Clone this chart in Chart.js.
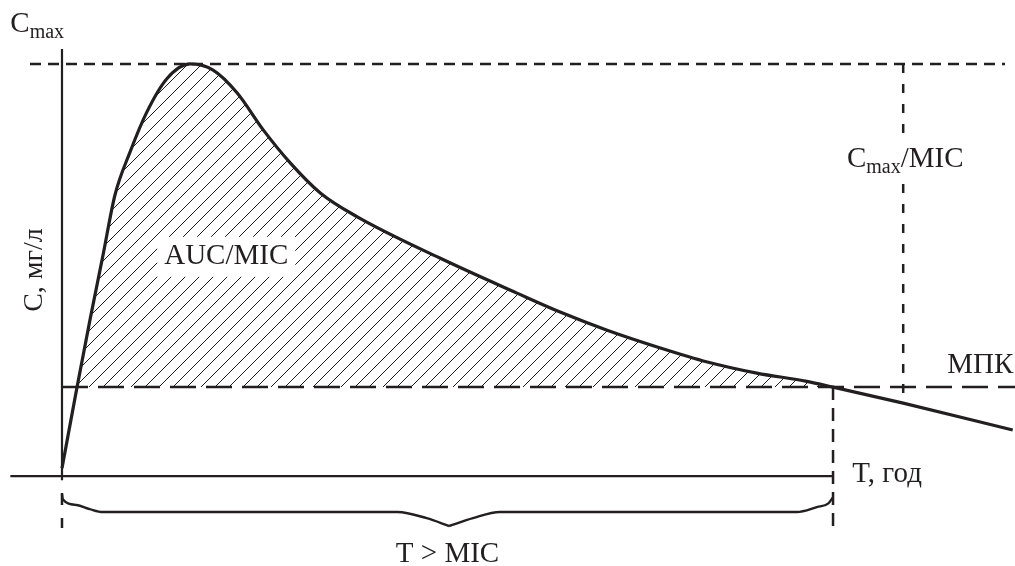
<!DOCTYPE html>
<html>
<head>
<meta charset="utf-8">
<script src="https://cdn.jsdelivr.net/npm/chart.js@4.4.1/dist/chart.umd.min.js"></script>
<style>
    html, body { margin: 0; padding: 0; background: #fff; }
    #wrap { width: 1015px; height: 566px; position: relative; }
</style>
</head>
<body>
<div id="wrap"><canvas id="pkChart"></canvas></div>
<script>
// кривая концентрации: время (T) и концентрация (C)
const curveT = [0, 0.195, 0.363, 0.532, 0.687, 0.882, 1.10, 1.36, 1.66, 1.96, 2.27, 2.61, 2.96, 3.35, 3.83, 4.90, 5.90, 6.46, 7.07, 7.76, 8.37, 9.01, 9.66, 10.0, 10.91, 12.33];
const curveC = [0.19, 2.16, 3.79, 5.36, 6.82, 7.86, 8.83, 9.64, 10.0, 9.85, 9.30, 8.40, 7.60, 6.87, 6.29, 5.29, 4.44, 3.98, 3.54, 3.11, 2.77, 2.50, 2.30, 2.16, 1.77, 1.12];

// уровни
const C_MAX = 10;
const MIC = 2.16;
const T_PEAK_MARK = 10.91;   // вертикаль Cmax/MIC
const T_MIC_END = 10;        // конец T > MIC

// фигурная скобка T > MIC (левая и правая половины)
const braceLeftT = [0, 0.01, 0.19, 0.36, 0.53, 4.35, 4.73, 5.02];
const braceLeftC = [-0.44, -0.56, -0.70, -0.80, -0.87, -0.87, -1.02, -1.21];
const braceRightT = [5.02, 5.33, 5.68, 9.53, 9.79, 9.94, 10.0];
const braceRightC = [-1.21, -1.02, -0.87, -0.87, -0.75, -0.66, -0.51];

// подписи
const labels = [
    { text: 'AUC/MIC', t: 2.13, c: 5.32, align: 'center', box: true },
    { text: 'МПК', t: 11.48, c: 2.5, align: 'left' },
    { text: 'T, год', t: 10.25, c: -0.15, align: 'left' },
    { text: 'T > MIC', t: 5.0, c: -2.09, align: 'center' }
];

(() => {
    const INK = '#231f20';
    const SERIF = '"Liberation Serif", "DejaVu Serif", serif';

    const zip = (ts, cs) => ts.map((t, i) => ({ x: t, y: cs[i] }));

    // штриховка
    function makeHatch() {
        const s = 14;
        const c = document.createElement('canvas');
        c.width = s; c.height = s;
        const g = c.getContext('2d');
        g.strokeStyle = INK;
        g.lineWidth = 1;
        g.beginPath();
        g.moveTo(-2, s + 2); g.lineTo(s + 2, -2);
        g.moveTo(-2, 2); g.lineTo(2, -2);
        g.moveTo(s - 2, s + 2); g.lineTo(s + 2, s - 2);
        g.stroke();
        return g.createPattern(c, 'repeat');
    }

    function seg(points, dash, width) {
        return {
            data: points,
            borderColor: INK,
            borderWidth: width || 2.4,
            borderDash: dash || [],
            pointRadius: 0,
            tension: 0,
            fill: false
        };
    }

    const datasets = [
        {
            data: zip(curveT, curveC),
            borderColor: INK,
            borderWidth: 3.2,
            pointRadius: 0,
            cubicInterpolationMode: 'monotone',
            fill: { target: { value: MIC }, above: makeHatch(), below: 'rgba(0,0,0,0)' }
        },
        // оси
        seg([{ x: -0.67, y: 0 }, { x: T_MIC_END, y: 0 }], [], 2.2),
        seg([{ x: 0, y: -0.1 }, { x: 0, y: 10.36 }], [], 2.2),
        // пунктиры
        seg([{ x: -0.415, y: C_MAX }, { x: 12.23, y: C_MAX }], [11, 7], 2.5),
        seg([{ x: 0, y: MIC }, { x: 12.4, y: MIC }], [26, 10], 2.5),
        seg([{ x: T_PEAK_MARK, y: C_MAX }, { x: T_PEAK_MARK, y: 1.77 }], [9, 11], 2.5),
        seg([{ x: T_MIC_END, y: MIC }, { x: T_MIC_END, y: -1.26 }], [13, 8], 2.5),
        seg([{ x: 0, y: -0.41 }, { x: 0, y: -1.26 }], [12, 13], 2.5),
        // скобка
        Object.assign(seg(zip(braceLeftT, braceLeftC), [], 2.4), { cubicInterpolationMode: 'monotone' }),
        Object.assign(seg(zip(braceRightT, braceRightC), [], 2.4), { cubicInterpolationMode: 'monotone' })
    ];

    // подписи поверх графика
    const textPlugin = {
        id: 'pkText',
        afterDatasetsDraw(chart) {
            const { ctx, scales: { x, y } } = chart;
            ctx.save();
            ctx.fillStyle = INK;
            ctx.textBaseline = 'alphabetic';

            labels.forEach(l => {
                const px = x.getPixelForValue(l.t);
                const py = y.getPixelForValue(l.c);
                ctx.font = `29px ${SERIF}`;
                ctx.textAlign = l.align;
                if (l.box) {
                    const w = ctx.measureText(l.text).width;
                    ctx.fillStyle = '#fff';
                    ctx.fillRect(px - w / 2 - 7, py - 20, w + 14, 40);
                    ctx.fillStyle = INK;
                    ctx.textBaseline = 'middle';
                }
                ctx.fillText(l.text, px, py);
                ctx.textBaseline = 'alphabetic';
            });

            // C с индексом max
            const sub = (px, py, tail, clear) => {
                ctx.textAlign = 'left';
                ctx.font = `29px ${SERIF}`;
                const wC = ctx.measureText('C').width;
                ctx.font = `20px ${SERIF}`;
                const wM = ctx.measureText('max').width;
                ctx.font = `29px ${SERIF}`;
                const wT = tail ? ctx.measureText(tail).width : 0;
                if (clear) {
                    ctx.fillStyle = '#fff';
                    ctx.fillRect(px - 2, py - 24, wC + wM + wT + 4, 36);
                    ctx.fillStyle = INK;
                }
                ctx.fillText('C', px, py);
                ctx.font = `20px ${SERIF}`;
                ctx.fillText('max', px + wC, py + 6);
                if (tail) {
                    ctx.font = `29px ${SERIF}`;
                    ctx.fillText(tail, px + wC + wM, py);
                }
            };
            sub(x.getPixelForValue(-0.67), y.getPixelForValue(10.78));
            sub(x.getPixelForValue(10.18), y.getPixelForValue(7.5), '/MIC', true);

            // подпись оси Y
            ctx.translate(x.getPixelForValue(-0.36), y.getPixelForValue(5.0));
            ctx.rotate(-Math.PI / 2);
            ctx.textAlign = 'center';
            ctx.textBaseline = 'middle';
            ctx.font = `28px ${SERIF}`;
            ctx.fillText('C, мг/л', 0, 0);
            ctx.restore();
        }
    };

    new Chart(document.getElementById('pkChart'), {
        type: 'line',
        data: { datasets },
        options: {
            responsive: true,
            maintainAspectRatio: false,
            animation: false,
            layout: { padding: 0 },
            plugins: { legend: { display: false }, tooltip: { enabled: false } },
            scales: {
                x: { type: 'linear', display: false, min: -0.804, max: 12.36 },
                y: { type: 'linear', display: false, min: -2.18, max: 11.55 }
            }
        },
        plugins: [textPlugin]
    });
})();
</script>
</body>
</html>
